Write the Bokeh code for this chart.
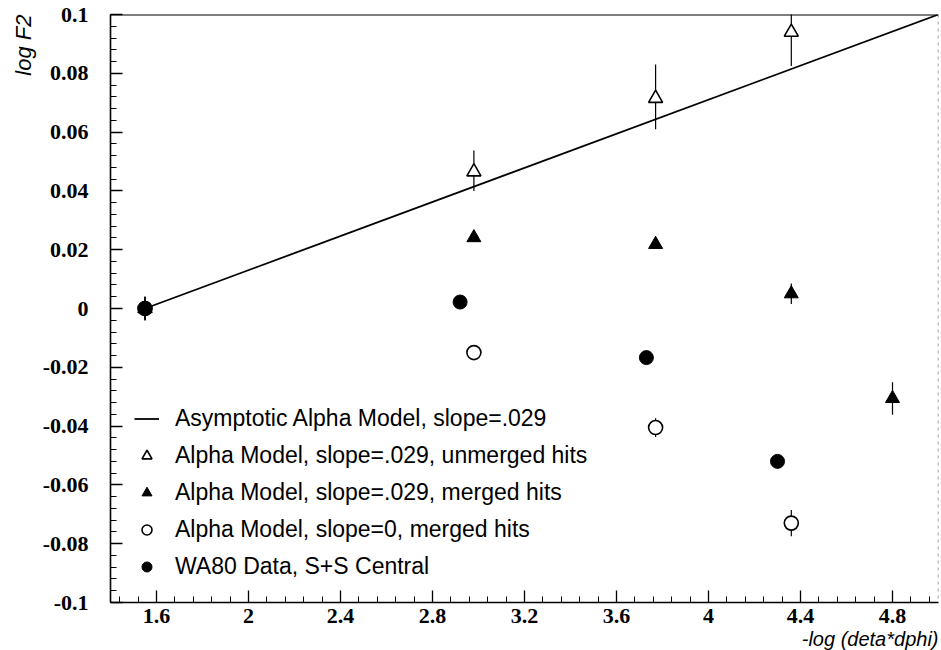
from bokeh.plotting import figure
from bokeh.models import (Legend, LegendItem, Title, Span, SingleIntervalTicker,
                          CustomJSTickFormatter, ColumnDataSource)
from bokeh.embed import file_html
from bokeh.resources import INLINE

# ---------------- data ----------------
asym_x = [1.55, 5.0]
asym_y = [0.0, 0.100]

unm_x = [1.55, 2.98, 3.77, 4.36]
unm_y = [0.0, 0.0465, 0.0715, 0.094]
unm_lo = [0.004, 0.0065, 0.0105, 0.0115]
unm_hi = [0.004, 0.0072, 0.0115, 0.0065]

mrg_x = [1.55, 2.98, 3.77, 4.36, 4.80]
mrg_y = [0.0, 0.0241, 0.0218, 0.005, -0.0306]
mrg_err = [0.004, 0.0, 0.0, 0.0035, 0.0055]

s0_x = [1.55, 2.98, 3.77, 4.36]
s0_y = [0.0, -0.0150, -0.0405, -0.0730]
s0_err = [0.004, 0.0, 0.0032, 0.0045]

wa80_x = [1.55, 2.92, 3.73, 4.30]
wa80_y = [0.0, 0.0022, -0.0167, -0.0520]

x_tick_values = [1.6, 2.0, 2.4, 2.8, 3.2, 3.6, 4.0, 4.4, 4.8]
x_tick_labels = ["1.6", "2", "2.4", "2.8", "3.2", "3.6", "4", "4.4", "4.8"]
y_tick_values = [-0.1, -0.08, -0.06, -0.04, -0.02, 0.0, 0.02, 0.04, 0.06, 0.08, 0.1]
y_tick_labels = ["-0.1", "-0.08", "-0.06", "-0.04", "-0.02", "0", "0.02", "0.04",
                 "0.06", "0.08", "0.1"]

legend_labels = [
    "Asymptotic Alpha Model, slope=.029",
    "Alpha Model, slope=.029, unmerged hits",
    "Alpha Model, slope=.029, merged hits",
    "Alpha Model, slope=0, merged hits",
    "WA80 Data, S+S Central",
]
x_title = "-log (deta*dphi)"
y_title = "log F2"

# ---------------- figure ----------------
p = figure(width=941, height=650, x_range=(1.4, 5.0), y_range=(-0.1, 0.1),
           output_backend="svg", toolbar_location=None,
           min_border_left=110, min_border_right=3, min_border_top=14,
           min_border_bottom=48)
p.xgrid.visible = False
p.ygrid.visible = False
p.outline_line_color = None
p.background_fill_color = "white"
p.border_fill_color = "white"

tick_font = "Liberation Serif"

def fmt(vals, labels):
    return CustomJSTickFormatter(args=dict(vals=vals, labels=labels), code="""
        const i = vals.findIndex(v => Math.abs(v - tick) < 1e-6);
        return i >= 0 ? labels[i] : '';
    """)

xa = p.xaxis[0]
xa.ticker = SingleIntervalTicker(interval=0.4, num_minor_ticks=5)
xa.formatter = fmt(x_tick_values, x_tick_labels)
ya = p.yaxis[0]
ya.ticker = SingleIntervalTicker(interval=0.02, num_minor_ticks=5)
ya.formatter = fmt(y_tick_values, y_tick_labels)

for ax in (xa, ya):
    ax.major_tick_in = 12
    ax.major_tick_out = 0
    ax.minor_tick_in = 6
    ax.minor_tick_out = 0
    ax.axis_line_width = 1.6
    ax.major_tick_line_width = 1.3
    ax.minor_tick_line_width = 1.0
    ax.axis_line_color = "black"
    ax.major_tick_line_color = "black"
    ax.minor_tick_line_color = "black"
    ax.major_label_text_font = tick_font
    ax.major_label_text_font_style = "bold"
    ax.major_label_text_font_size = "22px"
    ax.major_label_text_color = "black"
ya.major_label_standoff = 22
xa.major_label_standoff = 6

# top solid line, right faint dotted line
p.add_layout(Span(location=0.1, dimension="width", line_color="black", line_width=2))
p.add_layout(Span(location=5.0, dimension="height", line_color="#808080",
                  line_width=1.5, line_dash="3 4"))

# ---------------- glyphs ----------------
line_r = p.line(asym_x, asym_y, line_color="black", line_width=1.8)

def err_segments(xs, ys, lo, hi):
    src = ColumnDataSource(dict(x=xs, y0=[y - l for y, l in zip(ys, lo)],
                                y1=[y + h for y, h in zip(ys, hi)]))
    p.segment(x0="x", y0="y0", x1="x", y1="y1", source=src,
              line_color="black", line_width=1.2)

err_segments(unm_x, unm_y, unm_lo, unm_hi)
err_segments(mrg_x, mrg_y, mrg_err, mrg_err)
err_segments(s0_x, s0_y, s0_err, s0_err)

s0_r = p.scatter(s0_x, s0_y, marker="circle", size=14, fill_color="white",
                 line_color="black", line_width=1.6)
unm_r = p.scatter(unm_x, unm_y, marker="triangle", size=14, fill_color="white",
                  line_color="black", line_width=1.6)
wa_r = p.scatter(wa80_x, wa80_y, marker="circle", size=14, fill_color="black",
                 line_color="black")
mrg_r = p.scatter(mrg_x, mrg_y, marker="triangle", size=14, fill_color="black",
                  line_color="black")

legend = Legend(items=[
    LegendItem(label=legend_labels[0], renderers=[line_r]),
    LegendItem(label=legend_labels[1], renderers=[unm_r]),
    LegendItem(label=legend_labels[2], renderers=[mrg_r]),
    LegendItem(label=legend_labels[3], renderers=[s0_r]),
    LegendItem(label=legend_labels[4], renderers=[wa_r]),
], location=(24, 22), orientation="vertical",
    glyph_width=25, glyph_height=25, label_height=25, spacing=10,
    label_standoff=16, padding=0, margin=0,
    border_line_color=None, background_fill_alpha=0.0,
    label_text_font="Liberation Sans", label_text_font_size="23px",
    label_text_color="black")
p.add_layout(legend, "center")

# axis titles
p.add_layout(Title(text=x_title, align="right", text_font="Liberation Sans",
                   text_font_style="italic", text_font_size="20px",
                   text_line_height=0.8,
                   text_color="black", standoff=0, offset=0), "below")
p.add_layout(Title(text=y_title, align="right", text_font="Liberation Sans",
                   text_font_style="italic", text_font_size="22px",
                   text_color="black", standoff=8, offset=0), "left")

open("out.html", "w").write(file_html(p, INLINE))
